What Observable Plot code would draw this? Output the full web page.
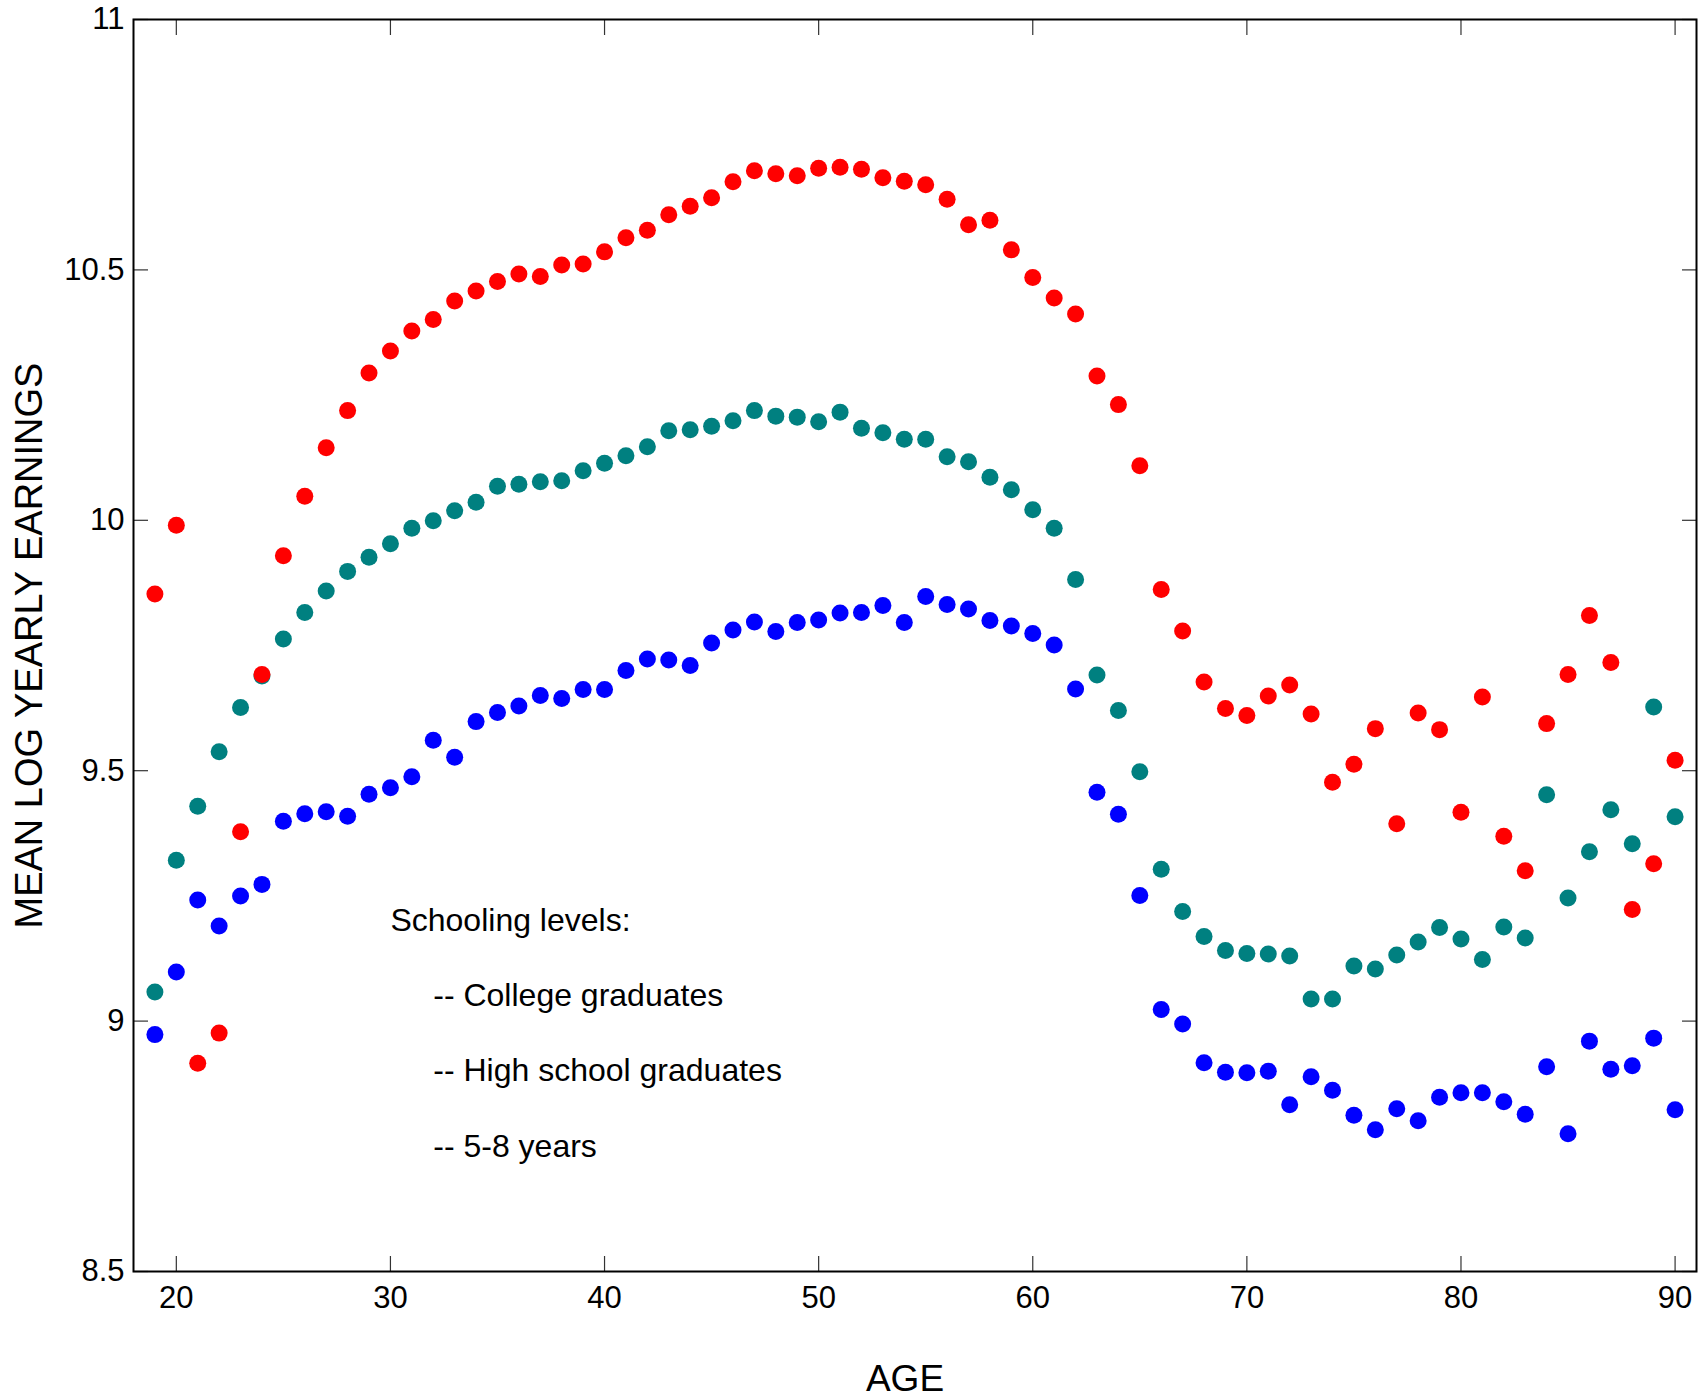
<!DOCTYPE html>
<html>
<head>
<meta charset="utf-8">
<script src="https://cdn.jsdelivr.net/npm/d3@7"></script>
<script src="https://cdn.jsdelivr.net/npm/@observablehq/plot@0.6"></script>
<style>
  html, body { margin: 0; padding: 0; background: #fff; }
</style>
</head>
<body>
<div id="chart"></div>
<script>
// Mean log yearly earnings by age, for three schooling levels
const ages = d3.range(19, 91);

const college = [
  9.853, 9.990, 8.916, 8.976, 9.378, 9.692, 9.929, 10.048, 10.145, 10.219,
  10.294, 10.338, 10.378, 10.401, 10.438, 10.458, 10.477, 10.492, 10.487, 10.510,
  10.512, 10.536, 10.564, 10.579, 10.610, 10.627, 10.644, 10.676, 10.698, 10.692,
  10.688, 10.703, 10.705, 10.701, 10.684, 10.677, 10.670, 10.641, 10.590, 10.599,
  10.540, 10.485, 10.444, 10.412, 10.288, 10.231, 10.109, 9.862, 9.779, 9.677,
  9.624, 9.610, 9.649, 9.671, 9.613, 9.477, 9.513, 9.584, 9.394, 9.615,
  9.582, 9.417, 9.647, 9.369, 9.300, 9.594, 9.692, 9.810, 9.716, 9.223,
  9.314, 9.521
];

const highSchool = [
  9.058, 9.321, 9.429, 9.538, 9.626, 9.689, 9.763, 9.816, 9.859, 9.898,
  9.926, 9.953, 9.984, 9.999, 10.019, 10.036, 10.068, 10.072, 10.077, 10.079,
  10.099, 10.114, 10.129, 10.147, 10.179, 10.181, 10.188, 10.199, 10.219, 10.208,
  10.206, 10.197, 10.216, 10.184, 10.175, 10.162, 10.162, 10.127, 10.117, 10.086,
  10.061, 10.021, 9.984, 9.882, 9.691, 9.620, 9.498, 9.303, 9.219, 9.169,
  9.141, 9.135, 9.134, 9.130, 9.044, 9.044, 9.110, 9.104, 9.132, 9.158,
  9.187, 9.164, 9.123, 9.188, 9.166, 9.452, 9.246, 9.338, 9.422, 9.354,
  9.627, 9.408
];

const grade58 = [
  8.973, 9.098, 9.242, 9.190, 9.250, 9.273, 9.399, 9.414, 9.418, 9.409,
  9.453, 9.466, 9.488, 9.561, 9.527, 9.598, 9.616, 9.629, 9.650, 9.644,
  9.662, 9.662, 9.700, 9.723, 9.721, 9.710, 9.755, 9.781, 9.797, 9.778,
  9.796, 9.801, 9.815, 9.816, 9.830, 9.796, 9.848, 9.832, 9.823, 9.800,
  9.789, 9.774, 9.751, 9.663, 9.457, 9.413, 9.251, 9.023, 8.994, 8.917,
  8.898, 8.897, 8.900, 8.833, 8.889, 8.862, 8.812, 8.783, 8.825, 8.801,
  8.848, 8.857, 8.857, 8.839, 8.814, 8.909, 8.775, 8.960, 8.904, 8.911,
  8.966, 8.823
];

const xTicks = [20, 30, 40, 50, 60, 70, 80, 90];
const yTicks = [8.5, 9, 9.5, 10, 10.5, 11];
const yTickLabels = ["8.5", "9", "9.5", "10", "10.5", "11"];

const legendTitle = "Schooling levels:";
const legendItems = ["-- College graduates", "-- High school graduates", "-- 5-8 years"];

// long-format table, drawn lowest schooling first so the college dots sit on top
const series = [
  {name: "5-8 years", values: grade58, color: "#0000ff"},
  {name: "High school graduates", values: highSchool, color: "#008080"},
  {name: "College graduates", values: college, color: "#ff0000"}
];
const rows = series.flatMap(s => ages.map((age, i) => ({age, value: s.values[i], color: s.color})));

const font = "'Liberation Sans', Arial, Helvetica, sans-serif";
const tickColor = "#333";

const chart = Plot.plot({
  width: 1705,
  height: 1398,
  marginLeft: 133,
  marginRight: 9,
  marginTop: 19,
  marginBottom: 127,
  style: {fontFamily: font, background: "#fff", color: "#000"},
  x: {domain: [18, 91]},
  y: {domain: [8.5, 11]},
  marks: [
    // inward ticks on all four sides
    Plot.axisX(xTicks, {anchor: "bottom", tickSize: -15, tickPadding: 29, fontSize: 31,
      stroke: tickColor, strokeWidth: 1.2, label: null, tickFormat: d => String(d)}),
    Plot.axisX(xTicks, {anchor: "top", tickSize: -15, text: null, stroke: tickColor, strokeWidth: 1.2, label: null}),
    Plot.axisY(yTicks, {anchor: "left", tickSize: -15, tickPadding: 24, fontSize: 31,
      stroke: tickColor, strokeWidth: 1.2, label: null,
      tickFormat: d => yTickLabels[yTicks.indexOf(d)]}),
    Plot.axisY(yTicks, {anchor: "right", tickSize: -15, text: null, stroke: tickColor, strokeWidth: 1.2, label: null}),
    Plot.dot(rows, {x: "age", y: "value", r: 8.5, fill: "color", stroke: null}),
    Plot.frame({stroke: "#000", strokeWidth: 2}),
    // schooling-level key
    Plot.text([legendTitle], {x: 30, y: 9.2, text: d => d, textAnchor: "start",
      lineAnchor: "middle", fontSize: 32, fill: "#000"}),
    Plot.text(legendItems, {x: 32, y: (d, i) => 9.05 - 0.15 * i, text: d => d,
      textAnchor: "start", lineAnchor: "middle", fontSize: 32, fill: "#000"}),
    // axis titles
    Plot.text(["AGE"], {frameAnchor: "bottom", text: d => d, dx: -10, dy: 108,
      textAnchor: "middle", lineAnchor: "middle", fontSize: 37, fill: "#000"}),
    Plot.text(["MEAN LOG YEARLY EARNINGS"], {frameAnchor: "left", text: d => d, rotate: -90,
      dx: -104, textAnchor: "middle", lineAnchor: "middle", fontSize: 38, fill: "#000"})
  ]
});

document.getElementById("chart").append(chart);
</script>
</body>
</html>
